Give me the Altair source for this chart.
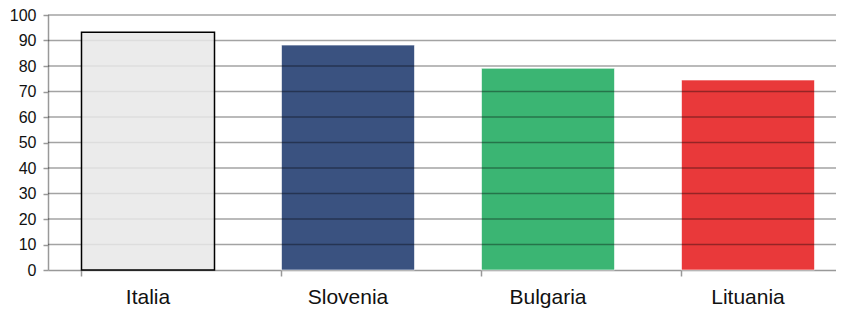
import altair as alt
import pandas as pd

countries = ["Italia", "Slovenia", "Bulgaria", "Lituania"]
values = [93.2, 88.2, 79.1, 74.5]
colors = ["#e8e8e8", "#3a5280", "#3bb573", "#e9393a"]
grid_values = [10, 20, 30, 40, 50, 60, 70, 80, 90, 100]
y_ticks = [0, 10, 20, 30, 40, 50, 60, 70, 80, 90, 100]

df = pd.DataFrame({"country": countries, "value": values, "color": colors})
gdf = pd.DataFrame({"value": grid_values})

x = alt.X("country:N", sort=countries, title=None,
          scale=alt.Scale(paddingInner=0.335, paddingOuter=0.1675, range=[0, 800]),
          axis=alt.Axis(labelAngle=0, labelFont="Liberation Sans", labelFontSize=21,
                        labelColor="#111", labelPadding=10, tickSize=6, tickColor="#999",
                        tickWidth=1.5, domainColor="#999", domainWidth=1.5,
                        bandPosition=0, grid=False))
y = alt.Y("value:Q", title=None,
          scale=alt.Scale(domain=[0, 100], nice=False),
          axis=alt.Axis(values=y_ticks, labelOverlap=False,
                        labelFont="Liberation Sans", labelFontSize=16, labelColor="#111",
                        labelPadding=7, tickSize=5, tickColor="#999", tickWidth=1.5,
                        domainColor="#999", domainWidth=1.5, grid=False))

colored = alt.Chart(df).transform_filter(alt.datum.country != "Italia").mark_bar(
    stroke="white", strokeOpacity=0.6, strokeWidth=1
).encode(x=x, y=y, color=alt.Color("color:N", scale=None))

overlay = alt.Chart(gdf).mark_rule(color="black", opacity=0.36, strokeWidth=1.6).encode(y=y)

italia = alt.Chart(df).transform_filter(alt.datum.country == "Italia").mark_bar(
    fill="#e8e8e8", fillOpacity=0.85, stroke="black", strokeWidth=1.5
).encode(x=x, y=y)

chart = alt.layer(colored, overlay, italia).properties(
    width=788, height=255,
    autosize=alt.AutoSizeParams(type="none"),
    padding={"left": 40, "top": 7, "right": 0, "bottom": 38},
).configure_view(stroke=None).configure_axis(labelOverlap=False)

chart.save("out.html", embed_options={"renderer": "svg", "actions": False})
